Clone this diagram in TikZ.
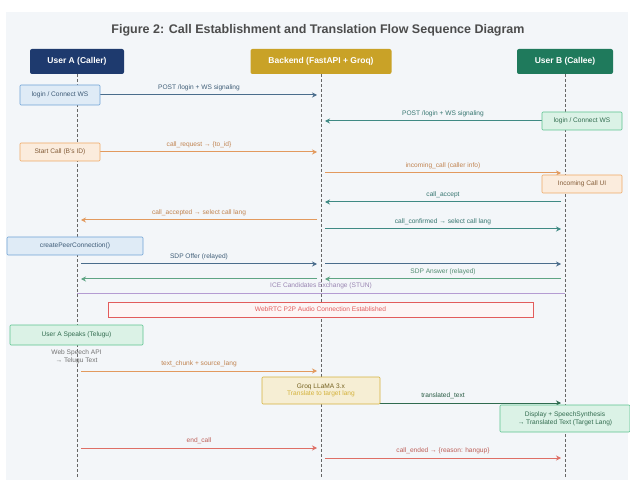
\documentclass[tikz,border=0pt]{standalone}
\usepackage{fontspec}
\setmainfont{Liberation Sans}
\usetikzlibrary{arrows.meta,positioning}

\definecolor{bgC}{HTML}{F3F6F9}
\definecolor{navyC}{HTML}{1E3A6E}
\definecolor{goldC}{HTML}{C9A227}
\definecolor{pineC}{HTML}{1F7A5C}
\definecolor{blueC}{HTML}{6FA3D6}
\definecolor{mintC}{HTML}{5CC48F}
\definecolor{peachC}{HTML}{EFA865}
\definecolor{sandC}{HTML}{D4B23C}
\definecolor{roseC}{HTML}{E25C5C}
\definecolor{slateC}{HTML}{4A6D8C}
\definecolor{tealC}{HTML}{3F8A84}
\definecolor{orangeC}{HTML}{E29A5E}
\definecolor{sageC}{HTML}{5FA584}
\definecolor{forestC}{HTML}{2F6B4F}
\definecolor{lilacC}{HTML}{B49CD2}
\definecolor{coralC}{HTML}{DE6F66}

\begin{document}
\begin{tikzpicture}
  [x=1pt,y=-1pt,
   every node/.style={font=\fontsize{6.6}{7.6}\selectfont},
   head/.style={rectangle,rounded corners=2pt,fill=#1,text=white,minimum height=25pt,
     font=\fontsize{8.5}{10}\selectfont\bfseries},
   act/.style={rectangle,rounded corners=1pt,draw=#1,fill=#1!22,text=#1!55!black,
     line width=0.6pt,inner sep=1pt},
   life/.style={densely dashed,black!60,line width=0.6pt},
   msg/.style={draw=#1,line width=1pt,shorten >=4pt,shorten <=4pt,
     -{Stealth[length=5pt,width=5pt]}},
   lbl/.style={above=0.3pt,text=#1!85!black}]
  \useasboundingbox (0,0) rectangle (630,484);
  \fill[white] (0,0) rectangle (630,484);
  \fill[bgC] (6,12) rectangle (628,480);

  \node[font=\fontsize{12.5}{14}\selectfont\bfseries,text=black!70] (title) at (318,30)
    {Figure 2: Call Establishment and Translation Flow Sequence Diagram};

  \node[head=navyC,minimum width=94pt] (hdrA) at (77,61.5) {User A (Caller)};
  \node[head=goldC,minimum width=141pt] (hdrS) at (321,61.5) {Backend (FastAPI + Groq)};
  \node[head=pineC,minimum width=96pt] (hdrB) at (565,61.5) {User B (Callee)};

  \coordinate (endA) at (77,477);
  \coordinate (endS) at (321,477);
  \coordinate (endB) at (565,477);
  \foreach \from/\to in {hdrA/endA, hdrS/endS, hdrB/endB}
    \draw[life] (\from.south) -- (\to);

  % one row of points per message
  \foreach \r/\y in {1/95, 2/121, 3/152, 4/173, 5/202, 6/220, 7/229, 8/264, 9/279,
                     10/293, 11/371, 12/403, 13/448, 14/458} {
    \coordinate (a\r) at (77,\y);
    \coordinate (s\r) at (321,\y);
    \coordinate (b\r) at (565,\y);
  }

  \foreach \from/\to/\col/\txt in {
      a1/s1/slateC/{POST /login + WS signaling},
      b2/s2/tealC/{POST /login + WS signaling},
      a3/s3/orangeC/{call\_request → \{to\_id\}},
      s4/b4/orangeC/{incoming\_call (caller info)},
      b5/s5/tealC/{call\_accept},
      s6/a6/orangeC/{call\_accepted → select call lang},
      s7/b7/tealC/{call\_confirmed → select call lang},
      a8/s8/slateC/{SDP Offer (relayed)},
      s8/b8/slateC/{},
      b9/s9/sageC/{SDP Answer (relayed)},
      s9/a9/sageC/{},
      a11/s11/orangeC/{text\_chunk + source\_lang},
      s12/b12/forestC/{translated\_text},
      a13/s13/coralC/{end\_call},
      s14/b14/coralC/{call\_ended → \{reason: hangup\}}}
    \draw[msg=\col] (\from) -- node[lbl=\col] {\txt} (\to);

  \draw[lilacC,line width=0.6pt] (a10) -- node[lbl=lilacC] {ICE Candidates Exchange (STUN)} (b10);

  \node[act=blueC,minimum width=80pt,minimum height=20pt] (loginA) at (60,95) {login / Connect WS};
  \node[act=mintC,minimum width=80pt,minimum height=18pt] (loginB) at (582,121) {login / Connect WS};
  \node[act=peachC,minimum width=80pt,minimum height=18pt] (startA) at (60,152) {Start Call (B's ID)};
  \node[act=peachC,minimum width=80pt,minimum height=18pt] (ringB) at (582,184) {Incoming Call UI};
  \node[act=blueC,minimum width=136pt,minimum height=18pt] (peerA) at (75,246) {createPeerConnection()};
  \node[rectangle,draw=roseC,fill=roseC!6,text=roseC,line width=0.8pt,minimum width=425pt,
    minimum height=15pt] (p2p) at (320.5,309.5) {WebRTC P2P Audio Connection Established};
  \node[act=mintC,minimum width=133pt,minimum height=20pt] (speakA) at (76.5,335) {User A Speaks (Telugu)};
  \node[below=1pt of speakA,align=center,text=black!55] (stt) {Web Speech API\\→ Telugu Text};
  \node[act=sandC,minimum width=118pt,minimum height=27pt,align=center] (groq) at (321,390.5)
    {Groq LLaMA 3.x\\{\color{sandC}Translate to target lang}};
  \node[act=mintC,minimum width=130pt,minimum height=27pt,align=center] (showB) at (565,418.5)
    {Display + SpeechSynthesis\\→ Translated Text (Target Lang)};
\end{tikzpicture}
\end{document}
